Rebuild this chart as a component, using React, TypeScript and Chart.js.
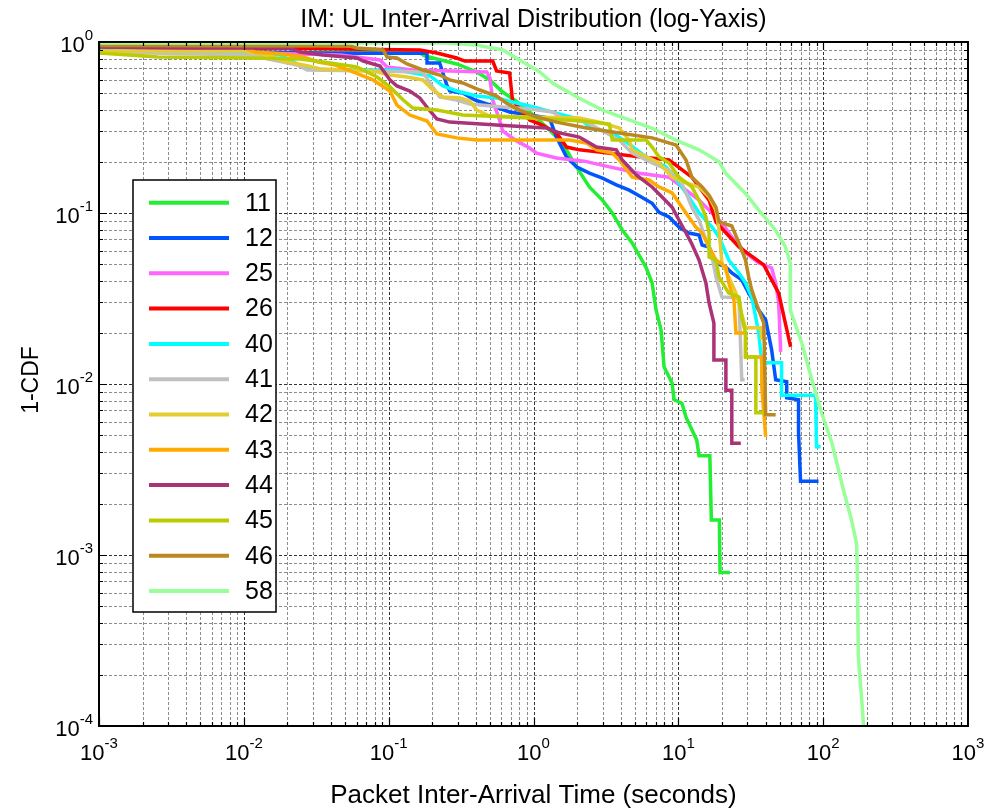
import React, { useEffect, useRef } from 'react';
import { Chart, registerables } from 'chart.js';

Chart.register(...registerables);

const TITLE = 'IM: UL Inter-Arrival Distribution (log-Yaxis)';
const X_LABEL = 'Packet Inter-Arrival Time (seconds)';
const Y_LABEL = '1-CDF';

const seriesNames = ['11', '12', '25', '26', '40', '41', '42', '43', '44', '45', '46', '58'];
const seriesColors = ['#22ee33', '#0055ff', '#ff66ff', '#ff0000', '#00ffff', '#c0c0c0', '#e6cc33', '#ffaa00', '#aa3377', '#bbcc00', '#bb8822', '#99ff99'];

const xTickExponents = ['-3', '-2', '-1', '0', '1', '2', '3'];
const yTickExponents = ['-4', '-3', '-2', '-1', '0'];

const s11x = [0.001, 0.164, 0.178, 0.295, 0.405, 0.5, 0.612, 0.74, 0.94, 1.25, 1.58, 1.98, 2.43, 2.99, 3.5, 4.1, 4.8, 5.97, 6.59, 7.02, 7.6, 7.97, 9.06, 9.34, 10.6, 11.3, 12.4, 13.4, 13.9, 16.5, 16.9, 19.2, 19.4, 22.7];
const s11y = [0.874, 0.862, 0.828, 0.744, 0.668, 0.6, 0.51, 0.458, 0.39, 0.314, 0.257, 0.186, 0.142, 0.119, 0.1, 0.0796, 0.0668, 0.0483, 0.039, 0.0271, 0.0207, 0.0126, 0.0101, 0.0081, 0.0077, 0.0064, 0.0054, 0.0047, 0.0038, 0.0038, 0.0016, 0.0016, 0.00079, 0.00079];

const s12x = [0.001, 0.0394, 0.184, 0.184, 0.225, 0.252, 0.264, 0.325, 0.393, 0.5, 0.684, 1.29, 1.44, 1.56, 1.69, 1.98, 2.43, 2.99, 3.73, 4.58, 5.36, 6.59, 7.36, 8.63, 10.1, 11.8, 13.9, 14.6, 16.3, 18.2, 21.3, 23.4, 27.4, 30.6, 35.9, 40.1, 44.1, 47.0, 56.0, 56.0, 67.6, 67.6, 69.8, 92.9];
const s12y = [0.898, 0.858, 0.858, 0.754, 0.754, 0.56, 0.517, 0.503, 0.458, 0.428, 0.39, 0.359, 0.278, 0.243, 0.213, 0.186, 0.171, 0.16, 0.146, 0.136, 0.126, 0.114, 0.101, 0.0947, 0.0828, 0.0764, 0.0743, 0.065, 0.0633, 0.051, 0.0483, 0.0446, 0.0406, 0.034, 0.0271, 0.0237, 0.0158, 0.0106, 0.0103, 0.0083, 0.0081, 0.0052, 0.0027, 0.0027];

const s25x = [0.001, 0.0462, 0.0871, 0.0975, 0.147, 0.475, 0.5, 0.523, 0.583, 0.612, 0.764, 0.94, 1.05, 1.44, 2.24, 3.34, 5.36, 8.63, 13.9, 20.0, 23.4, 29.2, 35.9, 44.1, 47.0, 49.3, 50.9];
const s25y = [0.91, 0.839, 0.785, 0.714, 0.686, 0.668, 0.616, 0.458, 0.35, 0.302, 0.264, 0.24, 0.224, 0.21, 0.201, 0.186, 0.171, 0.162, 0.119, 0.0874, 0.0724, 0.0584, 0.051, 0.0477, 0.039, 0.0298, 0.0154];

const s26x = [0.001, 0.0245, 0.164, 0.215, 0.295, 0.335, 0.523, 0.556, 0.684, 0.717, 0.764, 0.94, 1.15, 1.44, 1.69, 2.07, 2.85, 5.36, 8.63, 12.4, 16.3, 18.2, 26.2, 38.9, 49.3, 59.6];
const s26y = [0.916, 0.916, 0.898, 0.862, 0.806, 0.774, 0.774, 0.677, 0.659, 0.452, 0.428, 0.35, 0.327, 0.294, 0.243, 0.234, 0.227, 0.213, 0.204, 0.162, 0.119, 0.0886, 0.0633, 0.0497, 0.034, 0.0165];

const s40x = [0.001, 0.0179, 0.0265, 0.0394, 0.114, 0.193, 0.237, 0.295, 0.405, 0.556, 0.764, 0.94, 1.44, 2.17, 2.43, 3.5, 4.37, 6.0, 8.23, 10.1, 11.8, 13.9, 17.1, 19.1, 22.3, 26.2, 29.1, 32.1, 34.3, 35.9, 37.7, 51.6, 51.6, 88.6, 90, 95.9];
const s40y = [0.898, 0.839, 0.705, 0.686, 0.686, 0.633, 0.553, 0.517, 0.483, 0.471, 0.44, 0.422, 0.384, 0.35, 0.318, 0.294, 0.26, 0.213, 0.186, 0.15, 0.124, 0.1, 0.0828, 0.0724, 0.0531, 0.0446, 0.039, 0.0323, 0.0243, 0.0199, 0.0133, 0.0133, 0.0086, 0.0086, 0.0043, 0.0043];

const s41x = [0.001, 0.0111, 0.0137, 0.0234, 0.0274, 0.078, 0.172, 0.2, 0.225, 0.295, 0.363, 0.612, 0.94, 1.36, 1.58, 2.32, 3.0, 3.91, 4.8, 6.6, 8.63, 10.1, 11.3, 12.4, 13.9, 15.5, 17.1, 18.2, 20.0, 26.2, 27.4, 28.7];
const s41y = [0.874, 0.839, 0.806, 0.734, 0.686, 0.677, 0.668, 0.55, 0.477, 0.458, 0.434, 0.417, 0.406, 0.39, 0.359, 0.34, 0.302, 0.267, 0.224, 0.196, 0.178, 0.162, 0.131, 0.108, 0.091, 0.0695, 0.0553, 0.0422, 0.0323, 0.0318, 0.0106, 0.0106];

const s42x = [0.001, 0.0098, 0.0148, 0.0185, 0.0279, 0.0337, 0.078, 0.102, 0.134, 0.172, 0.202, 0.237, 0.31, 0.363, 0.405, 0.5, 0.94, 2.07, 3.0, 3.91, 4.58, 4.8, 7.36, 9.06, 11.3, 13.9, 16.3, 18.2, 19.1, 20.0, 22.3, 25.0, 29.1, 37.1, 37.7];
const s42y = [0.886, 0.886, 0.839, 0.774, 0.724, 0.695, 0.677, 0.641, 0.624, 0.6, 0.524, 0.477, 0.471, 0.452, 0.4, 0.369, 0.364, 0.359, 0.336, 0.314, 0.267, 0.234, 0.196, 0.162, 0.15, 0.142, 0.124, 0.104, 0.0796, 0.051, 0.0422, 0.034, 0.0213, 0.0213, 0.0181];

const s43x = [0.001, 0.0092, 0.012, 0.0185, 0.0258, 0.0326, 0.0427, 0.078, 0.102, 0.114, 0.14, 0.184, 0.215, 0.295, 0.405, 1.77, 2.32, 2.72, 3.5, 3.91, 4.8, 6.28, 7.36, 9.06, 11.8, 13.2, 14.6, 16.3, 18.2, 21.3, 22.3, 24.2, 25.0, 29.1, 29.1, 37.7, 37.7, 40.1];
const s43y = [0.957, 0.948, 0.874, 0.851, 0.817, 0.764, 0.734, 0.6, 0.517, 0.428, 0.374, 0.345, 0.29, 0.275, 0.267, 0.267, 0.257, 0.234, 0.224, 0.204, 0.162, 0.156, 0.142, 0.131, 0.0947, 0.0828, 0.0764, 0.0633, 0.0531, 0.0483, 0.039, 0.031, 0.0199, 0.0199, 0.0144, 0.0144, 0.0096, 0.0049];

const s44x = [0.001, 0.0043, 0.0209, 0.0245, 0.0353, 0.0604, 0.0668, 0.0871, 0.102, 0.114, 0.14, 0.164, 0.193, 0.215, 0.264, 0.556, 0.717, 1.23, 1.51, 2.07, 2.72, 3.73, 4.1, 5.12, 6.59, 7.72, 9.06, 10.1, 11.3, 12.4, 13.9, 15.5, 16.3, 17.6, 17.6, 21.3, 21.3, 23.4, 23.4, 27.0];
const s44y = [0.935, 0.922, 0.922, 0.874, 0.839, 0.806, 0.774, 0.724, 0.6, 0.553, 0.517, 0.471, 0.395, 0.355, 0.34, 0.327, 0.323, 0.314, 0.294, 0.278, 0.243, 0.234, 0.204, 0.167, 0.142, 0.124, 0.108, 0.091, 0.0764, 0.0659, 0.0531, 0.039, 0.0298, 0.0227, 0.0138, 0.0138, 0.0092, 0.0092, 0.0045, 0.0045];

const s45x = [0.001, 0.00255, 0.0111, 0.0245, 0.0353, 0.0604, 0.0832, 0.102, 0.126, 0.147, 0.215, 0.325, 0.94, 2.17, 3.34, 3.5, 6.0, 6.59, 7.36, 8.63, 10.1, 12.4, 13.9, 15.5, 16.3, 16.3, 18.2, 19.1, 22.3, 26.2, 27.4, 29.1, 29.1, 34.3, 34.3, 40.1];
const s45y = [0.862, 0.817, 0.806, 0.795, 0.764, 0.714, 0.624, 0.546, 0.458, 0.411, 0.4, 0.374, 0.359, 0.345, 0.331, 0.267, 0.267, 0.243, 0.213, 0.196, 0.162, 0.142, 0.119, 0.0947, 0.0764, 0.0553, 0.0531, 0.0422, 0.034, 0.0323, 0.0247, 0.0199, 0.0144, 0.0144, 0.0068, 0.0068];

const s46x = [0.001, 0.0542, 0.0604, 0.0915, 0.0975, 0.114, 0.134, 0.172, 0.225, 0.264, 0.325, 0.425, 0.556, 0.648, 0.8, 1.05, 1.44, 2.32, 3.91, 6.59, 9.64, 11.3, 12.4, 14.6, 16.3, 18.2, 19.1, 23.4, 26.2, 29.1, 30.6, 32.1, 35.9, 38.9, 40.1, 47.0];
const s46y = [0.954, 0.948, 0.922, 0.898, 0.817, 0.806, 0.744, 0.686, 0.641, 0.6, 0.576, 0.524, 0.483, 0.44, 0.4, 0.364, 0.34, 0.314, 0.294, 0.275, 0.25, 0.204, 0.162, 0.142, 0.127, 0.108, 0.0886, 0.0839, 0.0668, 0.0531, 0.0422, 0.0355, 0.0271, 0.0227, 0.0066, 0.0066];

const s58x = [0.001, 0.25, 0.404, 0.615, 0.8, 1.1, 1.36, 2.07, 3.0, 4.58, 6.62, 9.6, 13.9, 19.1, 21.2, 29.1, 35.9, 46.8, 54.8, 59.3, 59.3, 59.3, 71.3, 83.5, 98, 115, 138, 157, 170, 172, 175, 184, 190];
const s58y = [0.987, 0.987, 0.961, 0.898, 0.785, 0.67, 0.574, 0.469, 0.4, 0.35, 0.313, 0.267, 0.234, 0.1995, 0.171, 0.13, 0.104, 0.0796, 0.0635, 0.0508, 0.0406, 0.0271, 0.0173, 0.0106, 0.0067, 0.0045, 0.0024, 0.0016, 0.00117, 0.00085, 0.00025, 0.000148, 0.0001];

const seriesX = [s11x, s12x, s25x, s26x, s40x, s41x, s42x, s43x, s44x, s45x, s46x, s58x];
const seriesY = [s11y, s12y, s25y, s26y, s40y, s41y, s42y, s43y, s44y, s45y, s46y, s58y];

const FONT = "'Liberation Sans', Arial, Helvetica, sans-serif";

function drawPower(ctx: CanvasRenderingContext2D, exp: string, x: number, baseY: number, align: string) {
  ctx.font = `22px ${FONT}`;
  const wb = ctx.measureText('10').width;
  ctx.font = `15px ${FONT}`;
  const ws = ctx.measureText(exp).width;
  const total = wb + ws;
  const left = align === 'center' ? x - total / 2 : x - total;
  ctx.textAlign = 'left';
  ctx.textBaseline = 'alphabetic';
  ctx.font = `22px ${FONT}`;
  ctx.fillText('10', left, baseY);
  ctx.font = `15px ${FONT}`;
  ctx.fillText(exp, left + wb, baseY - 12);
}

const matlabPlugin = {
  id: 'matlabAxes',
  beforeDatasetsDraw(chart: any) {
    const { ctx, chartArea: a, scales } = chart;
    const xs = scales.x;
    const ys = scales.y;
    ctx.save();
    ctx.lineWidth = 1;
    ctx.setLineDash([3, 2]);
    for (let e = -3; e <= 2; e++) {
      for (let m = 1; m <= 9; m++) {
        const v = m * Math.pow(10, e);
        const px = Math.round(xs.getPixelForValue(v)) + 0.5;
        if (px <= a.left + 1 || px >= a.right - 1) continue;
        ctx.strokeStyle = m === 1 ? 'rgba(0,0,0,0.8)' : 'rgba(0,0,0,0.45)';
        ctx.beginPath();
        ctx.moveTo(px, a.top);
        ctx.lineTo(px, a.bottom);
        ctx.stroke();
      }
    }
    for (let e = -4; e <= -1; e++) {
      for (let m = 1; m <= 9; m++) {
        const v = m * Math.pow(10, e);
        const py = Math.round(ys.getPixelForValue(v)) + 0.5;
        if (py <= a.top + 1 || py >= a.bottom - 1) continue;
        ctx.strokeStyle = m === 1 ? 'rgba(0,0,0,0.8)' : 'rgba(0,0,0,0.45)';
        ctx.beginPath();
        ctx.moveTo(a.left, py);
        ctx.lineTo(a.right, py);
        ctx.stroke();
      }
    }
    ctx.restore();
  },
  afterDraw(chart: any) {
    const { ctx, chartArea: a, scales } = chart;
    const xs = scales.x;
    const ys = scales.y;
    ctx.save();
    ctx.setLineDash([]);
    ctx.strokeStyle = '#000';
    ctx.lineWidth = 1.2;
    for (let e = -3; e <= 2; e++) {
      for (let m = 1; m <= 9; m++) {
        const v = m * Math.pow(10, e);
        const px = Math.round(xs.getPixelForValue(v)) + 0.5;
        const len = m === 1 ? 8 : 4;
        ctx.beginPath();
        ctx.moveTo(px, a.bottom);
        ctx.lineTo(px, a.bottom - len);
        ctx.moveTo(px, a.top);
        ctx.lineTo(px, a.top + len);
        ctx.stroke();
      }
    }
    for (let e = -4; e <= -1; e++) {
      for (let m = 1; m <= 9; m++) {
        const v = m * Math.pow(10, e);
        const py = Math.round(ys.getPixelForValue(v)) + 0.5;
        const len = m === 1 ? 8 : 4;
        ctx.beginPath();
        ctx.moveTo(a.left, py);
        ctx.lineTo(a.left + len, py);
        ctx.moveTo(a.right, py);
        ctx.lineTo(a.right - len, py);
        ctx.stroke();
      }
    }
    ctx.lineWidth = 2;
    ctx.strokeRect(a.left, a.top, a.right - a.left, a.bottom - a.top);

    ctx.fillStyle = '#000';
    xTickExponents.forEach((ex) => {
      const px = xs.getPixelForValue(Math.pow(10, Number(ex)));
      drawPower(ctx, ex, px, 760, 'center');
    });
    yTickExponents.forEach((ex) => {
      const py = ys.getPixelForValue(Math.pow(10, Number(ex)));
      drawPower(ctx, ex, 93, py + 10, 'right');
    });

    ctx.textAlign = 'center';
    ctx.textBaseline = 'alphabetic';
    ctx.font = `25px ${FONT}`;
    ctx.fillText(TITLE, (a.left + a.right) / 2, 27);
    ctx.font = `26px ${FONT}`;
    ctx.fillText(X_LABEL, (a.left + a.right) / 2, 803);
    ctx.save();
    ctx.font = `23px ${FONT}`;
    ctx.translate(38, (a.top + a.bottom) / 2 - 4);
    ctx.rotate(-Math.PI / 2);
    ctx.fillText(Y_LABEL, 0, 0);
    ctx.restore();

    const lx = 133, ly = 180, lw = 143, lh = 432;
    ctx.fillStyle = '#fff';
    ctx.fillRect(lx, ly, lw, lh);
    ctx.strokeStyle = '#000';
    ctx.lineWidth = 1.5;
    ctx.strokeRect(lx, ly, lw, lh);
    seriesNames.forEach((name, i) => {
      const yy = 202.7 + i * 35.3;
      ctx.strokeStyle = seriesColors[i];
      ctx.lineWidth = 4;
      ctx.beginPath();
      ctx.moveTo(149, yy);
      ctx.lineTo(229, yy);
      ctx.stroke();
      ctx.fillStyle = '#000';
      ctx.font = `25px ${FONT}`;
      ctx.textAlign = 'left';
      ctx.textBaseline = 'middle';
      ctx.fillText(name, 245, yy + 1);
    });
    ctx.restore();
  },
};

export default function App() {
  const ref = useRef<HTMLCanvasElement | null>(null);
  useEffect(() => {
    document.body.style.margin = '0';
    const canvas = ref.current;
    if (!canvas) return;
    const datasets = seriesNames.map((name, i) => ({
      label: name,
      data: seriesX[i].map((x, j) => ({ x, y: seriesY[i][j] })),
      borderColor: seriesColors[i],
      backgroundColor: seriesColors[i],
      borderWidth: 3.5,
      pointRadius: 0,
      fill: false,
      tension: 0,
      order: seriesNames.length - 1 - i,
    }));
    const chart = new Chart(canvas, {
      type: 'line',
      data: { datasets },
      options: {
        animation: false,
        responsive: false,
        devicePixelRatio: 1,
        layout: { padding: { left: 0, right: 22, top: 42, bottom: 0 } },
        scales: {
          x: {
            type: 'logarithmic',
            min: 0.001,
            max: 1000,
            ticks: { display: false },
            grid: { display: false },
            border: { display: false },
            afterFit: (s: any) => { s.height = 86; },
          },
          y: {
            type: 'logarithmic',
            min: 0.0001,
            max: 1,
            ticks: { display: false },
            grid: { display: false },
            border: { display: false },
            afterFit: (s: any) => { s.width = 99; },
          },
        },
        plugins: {
          legend: { display: false },
          tooltip: { enabled: false },
          title: { display: false },
        },
      },
      plugins: [matlabPlugin],
    } as any);
    return () => chart.destroy();
  }, []);
  return (
    <div style={{ width: 990, height: 812, background: '#fff' }}>
      <canvas ref={ref} width={990} height={812} style={{ display: 'block', width: 990, height: 812 }} />
    </div>
  );
}
